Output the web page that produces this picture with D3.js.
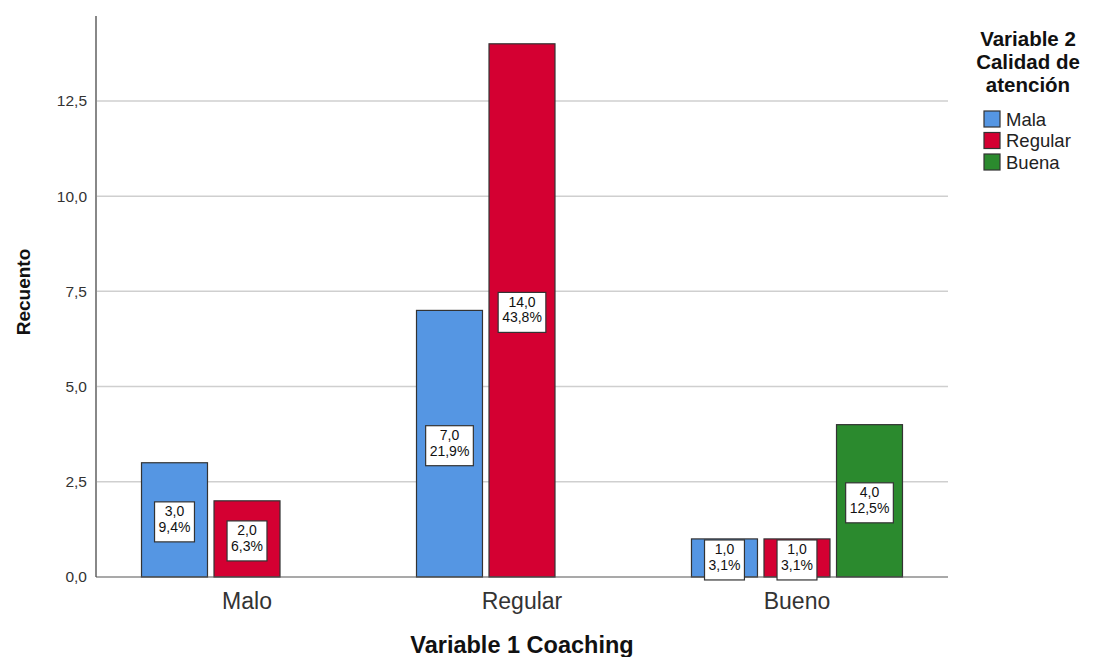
<!DOCTYPE html>
<html>
<head>
<meta charset="utf-8">
<script src="https://cdn.jsdelivr.net/npm/d3@7"></script>
<style>
  body { margin: 0; background: #fff; }
  svg { display: block; font-family: Arial, "Liberation Sans", sans-serif; }
</style>
</head>
<body>
<svg id="chart" width="1094" height="657"></svg>
<script>
// Categories of Variable 1 (Coaching) and series of Variable 2 (Calidad de atención)
const categories = ["Malo", "Regular", "Bueno"];
const series = ["Mala", "Regular", "Buena"];
// Counts per category, one array per series (null = no bar)
const malaValues = [3, 7, 1];
const regularValues = [2, 14, 1];
const buenaValues = [null, null, 4];
const total = 32;
const yTicks = [0, 2.5, 5, 7.5, 10, 12.5];
const colors = ["#5596e3", "#d40032", "#2b8a2e"];

(function () {
const svg = d3.select("#chart");
const plotL = 96, plotR = 948, plotT = 16, plotB = 577;

const y = d3.scaleLinear().domain([0, 14.73]).range([plotB, plotT]);
const x0 = d3.scaleBand().domain(categories).range([plotL, plotR])
  .paddingInner(0.2327).paddingOuter(0.1655);
const x1 = d3.scaleBand().domain(series).range([0, x0.bandwidth()]).paddingInner(0.09);

const fmt = v => d3.format(".1f")(v).replace(".", ",");

// grid lines
svg.append("g").selectAll("line").data(yTicks.filter(d => d > 0)).join("line")
  .attr("x1", plotL).attr("x2", plotR)
  .attr("y1", d => y(d)).attr("y2", d => y(d))
  .attr("stroke", "#cfcfcf").attr("stroke-width", 1.5);

// y axis
const yAxis = svg.append("g").attr("transform", `translate(${plotL},0)`)
  .call(d3.axisLeft(y).tickValues(yTicks).tickSize(0).tickPadding(9).tickFormat(fmt));
yAxis.select(".domain").remove();
yAxis.selectAll("text").attr("font-size", 15.5).attr("fill", "#333")
  .attr("font-family", "Arial, 'Liberation Sans', sans-serif");

const data = [];
categories.forEach((c, i) => {
  [malaValues, regularValues, buenaValues].forEach((arr, s) => {
    if (arr[i] != null) data.push({ cat: c, ser: series[s], v: arr[i], s });
  });
});

// bars
svg.append("g").selectAll("rect").data(data).join("rect")
  .attr("x", d => x0(d.cat) + x1(d.ser))
  .attr("y", d => y(d.v))
  .attr("width", x1.bandwidth())
  .attr("height", d => y(0) - y(d.v))
  .attr("fill", d => colors[d.s])
  .attr("stroke", "#333").attr("stroke-width", 1.2);

// axis lines
svg.append("line").attr("x1", plotL).attr("x2", plotL).attr("y1", plotT).attr("y2", plotB)
  .attr("stroke", "#888").attr("stroke-width", 2);
svg.append("line").attr("x1", plotL).attr("x2", plotR).attr("y1", plotB).attr("y2", plotB)
  .attr("stroke", "#555").attr("stroke-width", 1.2);

// value labels: count and percentage of total, boxed at mid-bar
const lab = svg.append("g").selectAll("g").data(data).join("g")
  .attr("transform", d => {
    const cx = x0(d.cat) + x1(d.ser) + x1.bandwidth() / 2;
    const cy = (y(d.v) + y(0)) / 2 + 2;
    return `translate(${cx},${cy})`;
  });
lab.each(function (d) {
  const g = d3.select(this);
  const t1 = fmt(d.v);
  const t2 = fmt(d.v / total * 100) + "%";
  const txt = g.append("text").attr("text-anchor", "middle").attr("font-size", 14).attr("fill", "#111");
  txt.append("tspan").attr("x", 0).attr("y", -5.5).text(t1);
  txt.append("tspan").attr("x", 0).attr("y", 10).text(t2);
  const bb = txt.node().getBBox();
  g.insert("rect", "text")
    .attr("x", bb.x - 4).attr("y", -20).attr("width", bb.width + 8).attr("height", 40)
    .attr("fill", "#fff").attr("stroke", "#333").attr("stroke-width", 1.2);
});

// category labels
svg.append("g").selectAll("text").data(categories).join("text")
  .attr("x", d => x0(d) + x0.bandwidth() / 2).attr("y", 609)
  .attr("text-anchor", "middle").attr("font-size", 23).attr("fill", "#333")
  .text(d => d);

// axis titles
svg.append("text").attr("x", 522).attr("y", 653).attr("text-anchor", "middle")
  .attr("font-size", 23.5).attr("font-weight", "bold").attr("fill", "#111")
  .text("Variable 1 Coaching");
svg.append("text").attr("transform", "translate(30,292) rotate(-90)")
  .attr("text-anchor", "middle").attr("font-size", 19).attr("font-weight", "bold").attr("fill", "#111")
  .text("Recuento");

// legend
const legendTitle = ["Variable 2", "Calidad de", "atención"];
svg.append("g").selectAll("text").data(legendTitle).join("text")
  .attr("x", 1028).attr("y", (d, i) => 46 + i * 23)
  .attr("text-anchor", "middle").attr("font-size", 20.5).attr("font-weight", "bold").attr("fill", "#111")
  .text(d => d);
const li = svg.append("g").selectAll("g").data(series).join("g")
  .attr("transform", (d, i) => `translate(984,${111 + i * 21.5})`);
li.append("rect").attr("width", 16).attr("height", 16)
  .attr("fill", (d, i) => colors[i]).attr("stroke", "#333").attr("stroke-width", 1.2);
li.append("text").attr("x", 22).attr("y", 14.5).attr("font-size", 18.5).attr("fill", "#222").text(d => d);
})();
</script>
</body>
</html>
